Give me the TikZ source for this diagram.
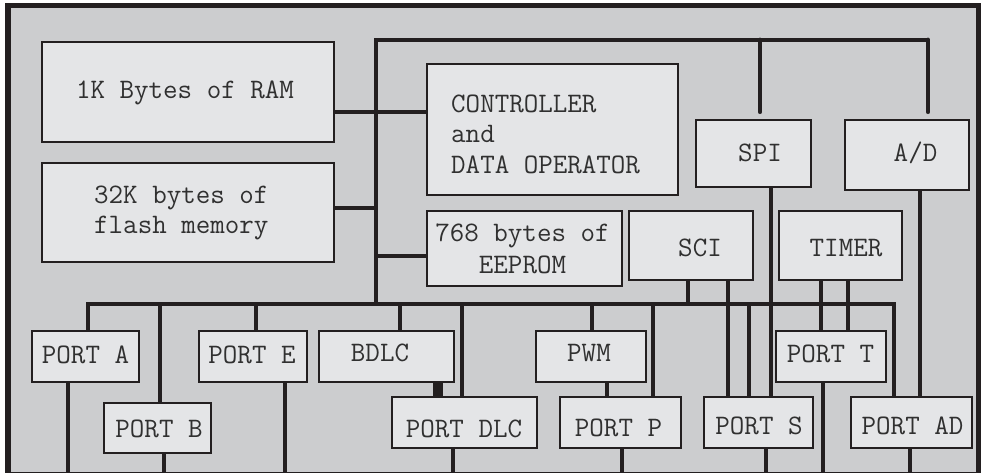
\documentclass[tikz,border=0pt]{standalone}
\usepackage{fontspec}
\usetikzlibrary{calc}

\definecolor{frameback}{RGB}{204,205,207}
\definecolor{boxfill}{RGB}{228,229,231}
\definecolor{ink}{RGB}{35,31,32}
\definecolor{txt}{RGB}{48,48,48}

\pgfdeclarelayer{wires}
\pgfsetlayers{wires,main}

\tikzset{
  blk/.style={draw=ink, fill=boxfill, line width=2.6pt, inner sep=0pt, rectangle},
  lbl/.style={font=\ttfamily\fontsize{28.2}{30}\selectfont, text=txt, inner sep=0pt, anchor=base},
  wire/.style={draw=ink, line width=4.8pt},
}

% block: name, left, top, right, bottom (pixel-like units, y grows downward)
\newcommand\chipblock[5]{%
  \node[blk, minimum width={(#4-#2)*1pt}, minimum height={(#5-#3)*1pt}]
    (#1) at ({(#2+#4)/2},{(#3+#5)/2}) {};}

\begin{document}
\begin{tikzpicture}[x=1pt,y=-1pt]
\useasboundingbox (0,0) rectangle (981,473);

% blocks
\chipblock{ram}{42}{42}{334}{142}
\chipblock{flash}{42}{163}{334}{262}
\chipblock{ctrl}{427}{64}{678}{195}
\chipblock{eep}{427}{211}{622}{286}
\chipblock{spi}{696}{120}{811}{187}
\chipblock{ad}{845}{120}{969}{190}
\chipblock{sci}{629}{211}{753}{280}
\chipblock{timer}{779}{211}{902}{280}
\chipblock{porta}{32}{331}{139}{382}
\chipblock{portb}{104}{403}{211}{453}
\chipblock{porte}{199}{331}{307}{382}
\chipblock{bdlc}{319}{331}{454}{382}
\chipblock{portdlc}{392}{397}{537}{448}
\chipblock{pwm}{536}{331}{646}{382}
\chipblock{portp}{560}{397}{681}{448}
\chipblock{ports}{704}{397}{813}{448}
\chipblock{portt}{776}{331}{886}{382}
\chipblock{portad}{851}{397}{972}{448}

% labels
\node[lbl] (ram-t) at (185,99) {1K Bytes of RAM};
\node[lbl, anchor=base west] (flash-t1) at (94,203) {32K bytes of};
\node[lbl, anchor=base west] (flash-t2) at (94,233) {flash memory};
\node[lbl, anchor=base west] (ctrl-t1) at (451,113) {CONTROLLER};
\node[lbl, anchor=base west] (ctrl-t2) at (451,143) {and};
\node[lbl, anchor=base west] (ctrl-t3) at (451,173) {DATA OPERATOR};
\node[lbl] (eep-t1) at (522.5,241) {768 bytes of};
\node[lbl] (eep-t2) at (522.5,273) {EEPROM};
\node[lbl] (spi-t) at (760,161) {SPI};
\node[lbl] (ad-t) at (915.5,161) {A/D};
\node[lbl] (sci-t) at (700,256) {SCI};
\node[lbl] (timer-t) at (846,256) {TIMER};
\node[lbl] (porta-t) at (85.5,363) {PORT A};
\node[lbl] (portb-t) at (159,437) {PORT B};
\node[lbl] (porte-t) at (252,363) {PORT E};
\node[lbl] (bdlc-t) at (380,361) {BDLC};
\node[lbl] (portdlc-t) at (464,437) {PORT DLC};
\node[lbl] (pwm-t) at (589,361) {PWM};
\node[lbl] (portp-t) at (618.5,436) {PORT P};
\node[lbl] (ports-t) at (759,434) {PORT S};
\node[lbl] (portt-t) at (830.5,362) {PORT T};
\node[lbl] (portad-t) at (912.5,434) {PORT AD};

% bus junctions and the lower edge where port lines leave
\coordinate (tb-w) at (376,40);
\coordinate (tb-e) at (928,40);
\coordinate (bb-w) at (88,304);
\coordinate (bb-e) at (894,304);
\coordinate (bb-j) at (376,304);
\coordinate (edge) at (0,476);

\begin{pgfonlayer}{wires}
  \fill[white] (0,0) rectangle (981,473);
  \draw[ink, line width=5.5pt, fill=frameback] (8,5.5) rectangle (978.5,475);

  % internal bus: memory side and top branch
  \draw[wire, line join=miter] (bb-j) -- (tb-w) -- (tb-e);
  \draw[wire, line cap=round] (tb-e) -- ($(ad.north -| tb-e)+(0,-7)$);
  \draw[wire, line cap=round] (760,0 |- tb-w) -- ($(spi.north -| 760,0)+(0,-7)$);
  \draw[wire] (ram.east |- 0,112) -- (ctrl.west |- 0,112);
  \draw[wire] (flash.east |- 0,208) -- (tb-w |- 0,208);
  \draw[wire] (tb-w |- 0,256) -- (eep.west |- 0,256);

  % lower bus
  \draw[wire, line join=miter] (porta.north -| bb-w) -- (bb-w) -- (bb-e) -- (portad.north -| bb-e);
  \foreach \x/\n in {160/portb, 256/porte, 400/bdlc, 462/portdlc, 592/pwm, 653/portp, 749/ports}
    \draw[wire] (bb-w -| \x,0) -- (\n.north -| \x,0);
  \draw[wire] (sci.south -| 688,0) -- (bb-w -| 688,0);

  % peripheral to port links
  \draw[wire] (sci.south -| 728,0) -- (ports.north -| 728,0);
  \draw[wire] (spi.south -| 771,0) -- (ports.north -| 771,0);
  \draw[wire] (timer.south -| 821,0) -- (portt.north -| 821,0);
  \draw[wire] (timer.south -| 848,0) -- (portt.north -| 848,0);
  \draw[wire] (ad.south -| 920,0) -- (portad.north -| 920,0);
  \draw[wire, line width=10pt] (bdlc.south -| 437.5,0) -- (portdlc.north -| 437.5,0);
  \draw[wire] (pwm.south -| 607,0) -- (portp.north -| 607,0);

  % port pins leaving the chip
  \foreach \x/\n in {68/porta, 164/portb, 285/porte, 453/portdlc, 622/portp, 766/ports, 823/portt, 910/portad}
    \draw[wire] (\n.south -| \x,0) -- (edge -| \x,0);
\end{pgfonlayer}
\end{tikzpicture}
\end{document}
